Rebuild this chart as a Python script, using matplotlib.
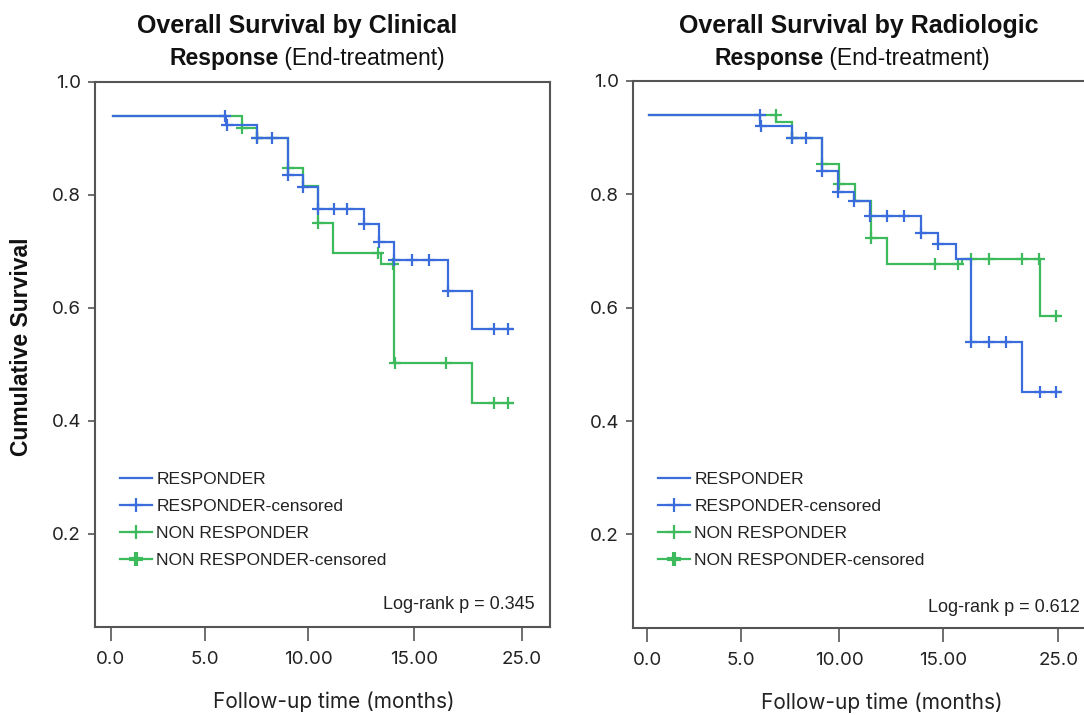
import numpy as np
import matplotlib
matplotlib.use("Agg")
import matplotlib.pyplot as plt
from matplotlib.lines import Line2D

# ---------------- data (months, cumulative survival) ----------------
# Left panel: clinical response
clin_resp_start = 0.12
clin_resp_s0 = 0.940
clin_resp_drop_t = [7.01, 8.88, 10.80, 11.72, 12.63, 15.41, 16.32, 17.25, 20.50, 22.00]
clin_resp_drop_s = [0.923, 0.900, 0.835, 0.814, 0.775, 0.748, 0.716, 0.685, 0.630, 0.562]
clin_resp_end = 24.43
clin_resp_cens = [6.98, 7.05, 8.90, 9.79, 10.80, 11.72, 12.63, 13.60, 14.40, 15.41,
                  16.32, 17.25, 18.35, 19.36, 20.50, 23.33, 24.19]

clin_non_start = 0.12
clin_non_s0 = 0.940
clin_non_drop_t = [7.97, 8.88, 10.80, 11.72, 12.63, 13.54, 16.45, 17.25, 21.96]
clin_non_drop_s = [0.918, 0.900, 0.847, 0.816, 0.751, 0.697, 0.678, 0.503, 0.431]
clin_non_end = 24.43
clin_non_cens = [7.97, 8.88, 10.80, 12.63, 16.28, 17.15, 17.30, 20.40, 23.33, 24.19]

clin_tick_pos = [0.0, 5.75, 12.02, 18.45, 25.0]
clin_tick_lab = ["0.0", "5.0", "10.00", "15.00", "25.0"]
clin_p = "Log-rank p = 0.345"

# Right panel: radiologic response
rad_resp_start = 0.12
rad_resp_s0 = 0.940
rad_resp_drop_t = [6.86, 8.78, 10.65, 11.62, 12.59, 13.55, 16.65, 17.70, 18.78, 19.67, 22.81]
rad_resp_drop_s = [0.921, 0.900, 0.841, 0.805, 0.788, 0.762, 0.731, 0.713, 0.686, 0.539, 0.452]
rad_resp_end = 25.10
rad_resp_cens = [6.84, 6.90, 8.78, 9.65, 10.65, 11.62, 12.59, 13.55, 14.60, 15.61,
                 16.65, 17.70, 19.67, 20.78, 21.82, 23.89, 24.86]

rad_non_start = 0.12
rad_non_s0 = 0.940
rad_non_drop_t = [7.82, 8.80, 10.65, 11.68, 12.65, 13.60, 14.60, 19.12, 23.89]
rad_non_drop_s = [0.927, 0.900, 0.853, 0.819, 0.788, 0.723, 0.677, 0.686, 0.585]
rad_non_end = 25.10
rad_non_cens = [7.80, 8.80, 10.65, 11.68, 13.60, 17.49, 18.92, 19.67, 20.78, 22.77,
                23.80, 24.86]

rad_tick_pos = [0.0, 5.68, 11.66, 17.97, 25.0]
rad_tick_lab = ["0.0", "5.0", "10.00", "15.00", "25.0"]
rad_p = "Log-rank p = 0.612"

y_ticks = [0.2, 0.4, 0.6, 0.8, 1.0]
y_tick_lab = ["0.2", "0.4", "0.6", "0.8", "1.0"]

legend_labels = ["RESPONDER", "RESPONDER-censored", "NON RESPONDER", "NON RESPONDER-censored"]

# ---------------- style ----------------
BLUE = "#3a6ddb"
GREEN = "#3dbb5c"
SPINE = "#555555"
F_TXT = ["Inter", "DejaVu Sans"]
F_LEG = ["Liberation Sans", "DejaVu Sans"]
F_HEAD = ["Liberation Sans", "DejaVu Sans"]

fig = plt.figure(figsize=(10.84, 7.15), dpi=100)
W, H = 1084.0, 715.0


def step_xy(start, s0, drop_t, drop_s, end):
    x = [start] + list(drop_t) + [end]
    y = [s0] + list(drop_s) + [drop_s[-1]]
    return x, y


def cens_y(cens, s0, drop_t, drop_s):
    idx = np.searchsorted(np.array(drop_t), np.array(cens), side="right")
    vals = np.concatenate([[s0], drop_s])
    return vals[idx]


def panel(rect, xlim, series, ticks, ticklab, ptext, ppos):
    ax = fig.add_axes(rect)
    for (start, s0, dt, ds, end, cens, col, mew) in series:
        x, y = step_xy(start, s0, dt, ds, end)
        ax.step(x, y, where="post", color=col, lw=1.6, solid_joinstyle="miter")
        ax.plot(cens, cens_y(cens, s0, dt, ds), ls="none", marker="+",
                ms=9, mew=mew, color=col)
    ax.set_xlim(*xlim)
    ax.set_ylim(0.035, 1.0)
    ax.set_yticks(y_ticks)
    ax.set_yticklabels(y_tick_lab, family=F_TXT, fontsize=13.5, color="#222222")
    ax.set_xticks(ticks)
    ax.set_xticklabels(ticklab, family=F_TXT, fontsize=13.5, color="#222222")
    ax.tick_params(axis="y", direction="out", length=5, width=1.2, color=SPINE, pad=5)
    ax.tick_params(axis="x", direction="out", length=10, width=1.2, color=SPINE, pad=7)
    for s in ax.spines.values():
        s.set_color(SPINE)
        s.set_linewidth(1.5)
    handles = [
        Line2D([], [], color=BLUE, lw=1.6),
        Line2D([], [], color=BLUE, lw=1.6, marker="+", ms=10, mew=1.6),
        Line2D([], [], color=GREEN, lw=1.6, marker="+", ms=10, mew=1.6),
        Line2D([], [], color=GREEN, lw=1.6, marker="+", ms=10, mew=3.0),
    ]
    leg = ax.legend(handles, legend_labels, loc="upper left",
                    bbox_to_anchor=(0.055, 0.285), frameon=False,
                    prop={"family": F_LEG, "size": 12.5},
                    handlelength=1.85, handletextpad=0.25, labelspacing=0.68,
                    borderaxespad=0, borderpad=0, markerfirst=True)
    for t in leg.get_texts():
        t.set_color("#222222")
    ax.text(ppos[0], ppos[1], ptext, transform=ax.transAxes, ha="right", va="center",
            family=F_LEG, fontsize=13, color="#222222")
    ax.set_xlabel("Follow-up time (months)", family=F_TXT, fontsize=15, color="#222222")
    return ax


axh = 545 / H
axw = 455 / W
ax1 = panel([95 / W, 1 - 627 / H, axw, axh], (-0.95, 26.72),
            [(clin_non_start, clin_non_s0, clin_non_drop_t, clin_non_drop_s, clin_non_end,
              clin_non_cens, GREEN, 1.6),
             (clin_resp_start, clin_resp_s0, clin_resp_drop_t, clin_resp_drop_s, clin_resp_end,
              clin_resp_cens, BLUE, 1.6)],
            clin_tick_pos, clin_tick_lab, clin_p, (0.967, 0.042))
ax1.xaxis.set_label_coords((334 - 95) / 455, -0.118)

ax2 = panel([633 / W, 1 - 628 / H, axw, 547 / H], (-0.87, 26.81),
            [(rad_non_start, rad_non_s0, rad_non_drop_t, rad_non_drop_s, rad_non_end,
              rad_non_cens, GREEN, 1.6),
             (rad_resp_start, rad_resp_s0, rad_resp_drop_t, rad_resp_drop_s, rad_resp_end,
              rad_resp_cens, BLUE, 1.6)],
            rad_tick_pos, rad_tick_lab, rad_p, (0.982, 0.037))
ax2.xaxis.set_label_coords((882 - 633) / 455, -0.118)

# y label
fig.text(22 / W, 1 - 347 / H, "Cumulative Survival", rotation=90, ha="center", va="center",
         family=F_HEAD, fontweight="bold", fontsize=16.5, color="#111111")

# titles
renderer = fig.canvas.get_renderer()


def mixed(xc_px, base_px, bold, regular, size):
    y = 1 - base_px / H
    t1 = fig.text(0, y, bold, fontsize=size, fontweight="bold", va="baseline", ha="left",
                  family=F_HEAD, color="#111111")
    t2 = fig.text(0, y, regular, fontsize=size, va="baseline", ha="left",
                  family=F_HEAD, color="#111111")
    w1 = t1.get_window_extent(renderer).width
    w2 = t2.get_window_extent(renderer).width
    x0 = xc_px - (w1 + w2) / 2
    t1.set_x(x0 / W)
    t2.set_x((x0 + w1) / W)


fig.text(297 / W, 1 - 33 / H, "Overall Survival by Clinical", ha="center", va="baseline",
         family=F_HEAD, fontweight="bold", fontsize=18, color="#111111")
mixed(307, 65, "Response", " (End-treatment)", 16.5)
fig.text(859 / W, 1 - 33 / H, "Overall Survival by Radiologic", ha="center", va="baseline",
         family=F_HEAD, fontweight="bold", fontsize=18, color="#111111")
mixed(852, 65, "Response", " (End-treatment)", 16.5)

fig.savefig("out.png", dpi=100)
